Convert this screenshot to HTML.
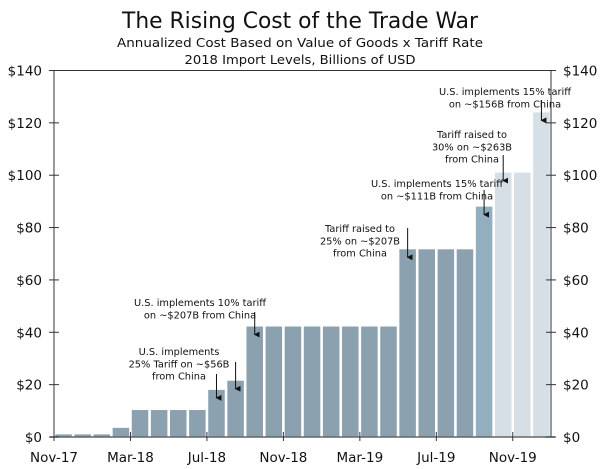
<!DOCTYPE html>
<html><head><meta charset="utf-8"><style>
body{margin:0;background:#fff}
svg{display:block;font-family:"DejaVu Sans","Liberation Sans",sans-serif}
</style></head><body>
<svg id="chart" width="600" height="469">
<defs><marker id="ah" markerWidth="6" markerHeight="6" refX="3" refY="5" orient="auto" markerUnits="userSpaceOnUse"><path d="M0,0 L6,0 L3,6 z" fill="#111"/></marker></defs>
<text x="300" y="28" text-anchor="middle" font-size="22" textLength="356" lengthAdjust="spacingAndGlyphs" fill="#111">The Rising Cost of the Trade War</text>
<text x="300" y="47" text-anchor="middle" font-size="12.5" textLength="366" lengthAdjust="spacingAndGlyphs" fill="#111">Annualized Cost Based on Value of Goods x Tariff Rate</text>
<text x="300" y="64" text-anchor="middle" font-size="12.5" textLength="231" lengthAdjust="spacingAndGlyphs" fill="#111">2018 Import Levels, Billions of USD</text>
<g id="bars"></g>
<g id="axes"></g>
<g id="notes" font-size="9.8" fill="#111" text-anchor="middle"></g>
</svg>
<script>
const categories=["Nov-17","Dec-17","Jan-18","Feb-18","Mar-18","Apr-18","May-18","Jun-18","Jul-18","Aug-18","Sep-18","Oct-18","Nov-18","Dec-18","Jan-19","Feb-19","Mar-19","Apr-19","May-19","Jun-19","Jul-19","Aug-19","Sep-19","Oct-19","Nov-19","Dec-19"];
const values=[1,1,1,3.5,10.3,10.3,10.3,10.3,18,21.5,42.2,42.2,42.2,42.2,42.2,42.2,42.2,42.2,71.7,71.7,71.7,71.7,88,101,101,124];
const barKind=["a","a","a","a","a","a","a","a","a","a","a","a","a","a","a","a","a","a","a","a","a","a","b","c","c","c"];
const yTicks=[0,20,40,60,80,100,120,140];
const yTickLabels=["$0","$20","$40","$60","$80","$100","$120","$140"];
const xTickLabels=["Nov-17","Mar-18","Jul-18","Nov-18","Mar-19","Jul-19","Nov-19"];
const xTickIndex=[0,4,8,12,16,20,24];
const notes=[
 {lines:["U.S. implements 10% tariff","on ~$207B from China"],cx:200,y:306,idx:10,ay:312},
 {lines:["U.S. implements","25% Tariff on ~$56B","from China"],cx:179,y:355,idx:8,ay:374},
 {lines:["","",""],cx:0,y:0,idx:9,ay:362},
 {lines:["Tariff raised to","25% on ~$207B","from China"],cx:360,y:232,idx:18,ay:228},
 {lines:["U.S. implements 15% tariff","on ~$111B from China"],cx:437,y:187,idx:22,ay:190},
 {lines:["Tariff raised to","30% on ~$263B","from China"],cx:472,y:138,idx:23,ay:155},
 {lines:["U.S. implements 15% tariff","on ~$156B from China"],cx:505,y:95,idx:25,ay:100}
];
const X0=54,X1=551,Y0=437,YT=70.5,slot=(X1-X0)/categories.length;
const xs=i=>X0+i*slot;
const ys=v=>Y0-(v/140)*(Y0-YT);
const NS="http://www.w3.org/2000/svg";
function mk(t,a,p){const e=document.createElementNS(NS,t);for(const k in a)e.setAttribute(k,a[k]);p.appendChild(e);return e;}
const colors={a:"#8ba1b0",b:"#93aebf",c:"#d5dfe5"};
const bars=document.getElementById("bars");
values.forEach((v,i)=>{const r=mk("rect",{x:xs(i)+1.3,y:ys(v),width:slot-2.6,height:Y0-ys(v),fill:colors[barKind[i]]},bars);

});
const ax=document.getElementById("axes");
mk("line",{x1:X0,y1:YT,x2:X1,y2:YT,stroke:"#333","stroke-width":1},ax);
mk("line",{x1:X0,y1:YT,x2:X0,y2:Y0,stroke:"#333","stroke-width":1},ax);
mk("line",{x1:X1,y1:YT,x2:X1,y2:Y0,stroke:"#333","stroke-width":1},ax);
mk("line",{x1:X0-4,y1:Y0,x2:X1+4,y2:Y0,stroke:"#666","stroke-width":1.5},ax);
yTicks.forEach((t,i)=>{const y=ys(t);
mk("line",{x1:X0-5,y1:y,x2:X0+5,y2:y,stroke:"#333"},ax);
mk("line",{x1:X1-5,y1:y,x2:X1+5,y2:y,stroke:"#333"},ax);
const l=mk("text",{x:42,y:y+5,"text-anchor":"end","font-size":13.5,fill:"#111"},ax);l.textContent=yTickLabels[i];


const r=mk("text",{x:563,y:y+5,"font-size":13.5,fill:"#111"},ax);r.textContent=yTickLabels[i];

});
xTickIndex.forEach((k,i)=>{const x=xs(k);
mk("line",{x1:x,y1:Y0-5,x2:x,y2:Y0+4,stroke:"#333"},ax);
const t=mk("text",{x:x,y:462,"text-anchor":"middle","font-size":13.5,fill:"#111"},ax);t.textContent=xTickLabels[i];

});
const ng=document.getElementById("notes");
notes.forEach(n=>{const g=mk("g",{},ng);


n.lines.forEach((s,j)=>{if(!s)return;const t=mk("text",{x:n.cx,y:n.y+j*12.3},g);t.textContent=s;});
const x=xs(n.idx)+slot/2;
mk("line",{x1:x,y1:n.ay,x2:x,y2:ys(values[n.idx])+8,stroke:"#111","stroke-width":1,"marker-end":"url(#ah)"},g);});
</script>
</body></html>
